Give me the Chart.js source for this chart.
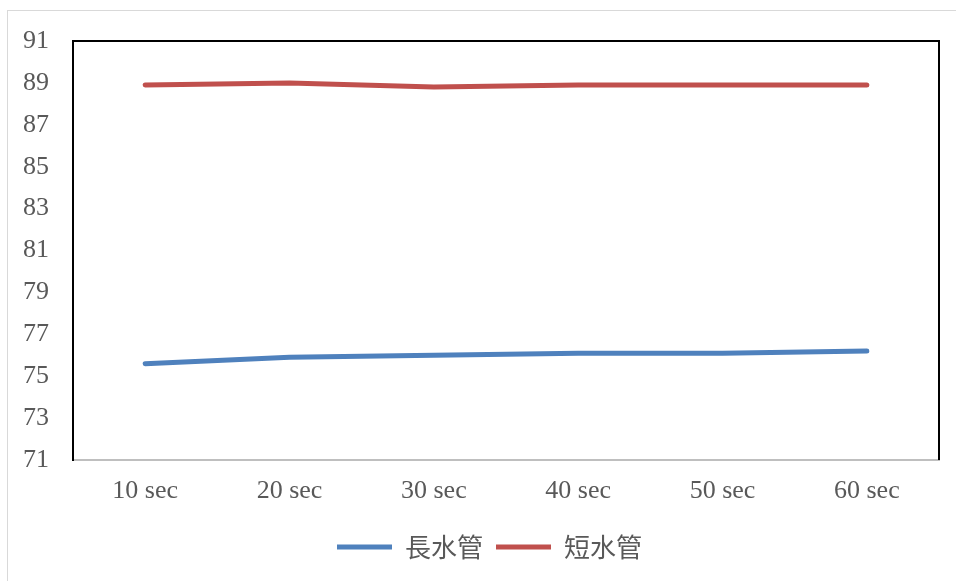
<!DOCTYPE html>
<html lang="zh-Hant">
<head>
<meta charset="UTF-8">
<title>長水管 / 短水管</title>
<script src="https://cdn.jsdelivr.net/npm/chart.js"></script>
<style>
  html, body { margin: 0; padding: 0; background: #fff; }
  #wrap { position: relative; width: 956px; height: 581px; overflow: hidden; }
  #frame { position: absolute; left: 7px; top: 10px; width: 980px; height: 600px; border: 1px solid #d9d9d9; box-sizing: border-box; }
  canvas { position: absolute; left: 0; top: 0; }
</style>
</head>
<body>
<div id="wrap">
  <div id="frame"></div>
  <canvas id="chart" width="956" height="581"></canvas>
</div>
<script>
// datos
var categorias = ['10 sec', '20 sec', '30 sec', '40 sec', '50 sec', '60 sec'];
var largo = [75.6, 75.9, 76.0, 76.1, 76.1, 76.2];
var corto = [88.9, 89.0, 88.8, 88.9, 88.9, 88.9];
var nombres = ['長水管', '短水管'];
var yMin = 71, yMax = 91, yPaso = 2;

var gris = '#595959';
var serif = '"Liberation Serif", "Times New Roman", serif';

// marco negro arriba y a la derecha del área del gráfico
var marco = {
  id: 'marco',
  afterLayout: function (chart) {
    // la leyenda del original está centrada un poco más a la derecha
    if (chart.legend) chart.legend.left = 40;
  },
  afterDraw: function (chart) {
    var a = chart.chartArea, ctx = chart.ctx;
    ctx.save();
    ctx.strokeStyle = '#000';
    ctx.lineWidth = 2;
    ctx.beginPath();
    ctx.moveTo(a.left, a.top);
    ctx.lineTo(a.right, a.top);
    ctx.lineTo(a.right, a.bottom);
    ctx.stroke();
    ctx.restore();
  }
};

new Chart(document.getElementById('chart'), {
  type: 'line',
  data: {
    labels: categorias,
    datasets: [{
      label: nombres[0],
      data: largo,
      borderColor: '#4f81bd',
      backgroundColor: '#4f81bd',
      borderWidth: 5,
      borderCapStyle: 'round',
      pointRadius: 0,
      tension: 0
    }, {
      label: nombres[1],
      data: corto,
      borderColor: '#c0504d',
      backgroundColor: '#c0504d',
      borderWidth: 5,
      borderCapStyle: 'round',
      pointRadius: 0,
      tension: 0
    }]
  },
  options: {
    responsive: false,
    animation: false,
    layout: { padding: { left: 0, right: 17, top: 41, bottom: 11 } },
    plugins: {
      tooltip: { enabled: false },
      legend: {
        position: 'bottom',
        labels: {
          usePointStyle: true,
          pointStyle: 'line',
          pointStyleWidth: 55,
          boxHeight: 5,
          padding: 13,
          color: gris,
          font: { family: '"Noto Sans CJK TC", "Noto Sans CJK SC", sans-serif', size: 26 }
        }
      }
    },
    scales: {
      x: {
        offset: true,
        grid: { display: false, drawTicks: false },
        border: { color: '#bfbfbf', width: 2 },
        ticks: {
          color: gris,
          padding: 16,
          font: { family: serif, size: 26 }
        },
        afterFit: function (s) { s.height = 61; }
      },
      y: {
        min: yMin,
        max: yMax,
        grid: { display: false, drawTicks: false },
        border: { color: '#000', width: 2 },
        ticks: {
          stepSize: yPaso,
          color: gris,
          padding: 24,
          font: { family: serif, size: 26 }
        },
        afterFit: function (s) { s.width = 73; }
      }
    }
  },
  plugins: [marco]
});
</script>
</body>
</html>
